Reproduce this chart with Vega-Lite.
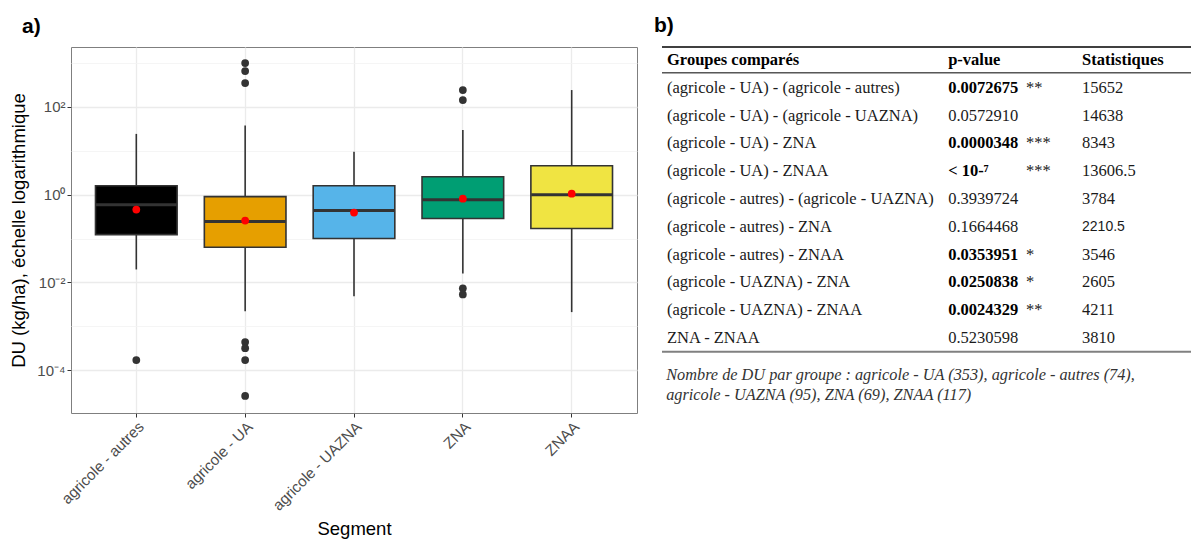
{
  "$schema": "https://vega.github.io/schema/vega-lite/v6.json",
  "background": "white",
  "padding": {"left": 9, "top": 15, "right": 0, "bottom": 0},
  "config": {"font": "Liberation Sans", "view": {"stroke": "#7f7f7f", "strokeWidth": 1}},
  "datasets": {
    "boites": [
      {"segment": "agricole - autres", "min": 0.0197, "q1": 0.123, "mediane": 0.59, "q3": 1.6, "max": 24.3, "moyenne": 0.457},
      {"segment": "agricole - UA", "min": 0.0022, "q1": 0.063, "mediane": 0.243, "q3": 0.9, "max": 38, "moyenne": 0.256},
      {"segment": "agricole - UAZNA", "min": 0.0048, "q1": 0.1, "mediane": 0.433, "q3": 1.6, "max": 9.5, "moyenne": 0.39},
      {"segment": "ZNA", "min": 0.016, "q1": 0.285, "mediane": 0.77, "q3": 2.56, "max": 30, "moyenne": 0.81},
      {"segment": "ZNAA", "min": 0.0021, "q1": 0.169, "mediane": 1.0, "q3": 4.56, "max": 243, "moyenne": 1.05}
    ],
    "atypiques": [
      {"segment": "agricole - autres", "valeur": 0.000169},
      {"segment": "agricole - UA", "valeur": 1000},
      {"segment": "agricole - UA", "valeur": 658},
      {"segment": "agricole - UA", "valeur": 351},
      {"segment": "agricole - UA", "valeur": 0.000435},
      {"segment": "agricole - UA", "valeur": 0.000316},
      {"segment": "agricole - UA", "valeur": 0.000169},
      {"segment": "agricole - UA", "valeur": 0.0000257},
      {"segment": "ZNA", "valeur": 243},
      {"segment": "ZNA", "valeur": 144},
      {"segment": "ZNA", "valeur": 0.0073},
      {"segment": "ZNA", "valeur": 0.0053}
    ],
    "tableau": [
      {"rang": 1, "groupes": "(agricole - UA) - (agricole - autres)", "pvalue": "0.0072675", "signif": "**", "statistique": "15652"},
      {"rang": 2, "groupes": "(agricole - UA) - (agricole - UAZNA)", "pvalue": "0.0572910", "signif": "", "statistique": "14638"},
      {"rang": 3, "groupes": "(agricole - UA) - ZNA", "pvalue": "0.0000348", "signif": "***", "statistique": "8343"},
      {"rang": 4, "groupes": "(agricole - UA) - ZNAA", "pvalue": "< 10-⁷", "signif": "***", "statistique": "13606.5"},
      {"rang": 5, "groupes": "(agricole - autres) - (agricole - UAZNA)", "pvalue": "0.3939724", "signif": "", "statistique": "3784"},
      {"rang": 6, "groupes": "(agricole - autres) - ZNA", "pvalue": "0.1664468", "signif": "", "statistique": "2210.5"},
      {"rang": 7, "groupes": "(agricole - autres) - ZNAA", "pvalue": "0.0353951", "signif": "*", "statistique": "3546"},
      {"rang": 8, "groupes": "(agricole - UAZNA) - ZNA", "pvalue": "0.0250838", "signif": "*", "statistique": "2605"},
      {"rang": 9, "groupes": "(agricole - UAZNA) - ZNAA", "pvalue": "0.0024329", "signif": "**", "statistique": "4211"},
      {"rang": 10, "groupes": "ZNA - ZNAA", "pvalue": "0.5230598", "signif": "", "statistique": "3810"}
    ]
  },
  "spacing": 16,
  "resolve": {"scale": {"x": "independent", "y": "independent"}},
  "hconcat": [
    {
      "width": 566,
      "height": 366,
      "title": {"text": "a)", "anchor": "start", "frame": "group", "dx": -49, "offset": 10, "fontSize": 21, "fontWeight": "bold", "font": "Liberation Sans", "color": "#000000"},
      "resolve": {"axis": {"y": "independent"}},
      "layer": [
        {
          "data": {"name": "boites"},
          "mark": {"type": "rule", "opacity": 0},
          "encoding": {
            "y": {
              "field": "mediane", "type": "quantitative",
              "scale": {"type": "log", "domain": [0.0000105, 2330], "nice": false},
              "axis": {"orient": "right", "values": [0.001, 0.1, 10, 1000], "grid": true, "gridColor": "#F3F3F3", "gridWidth": 0.8, "labels": false, "ticks": false, "domain": false, "title": null, "minExtent": 0, "maxExtent": 0}
            }
          }
        },
        {
          "layer": [
            {
              "data": {"name": "boites"},
              "mark": {"type": "rule", "color": "#333333", "strokeWidth": 1.6},
              "encoding": {
                "x": {
                  "field": "segment", "type": "nominal", "title": "Segment",
                  "scale": {"type": "band", "domain": ["agricole - autres", "agricole - UA", "agricole - UAZNA", "ZNA", "ZNAA"], "paddingInner": 0.25, "paddingOuter": 0.225},
                  "axis": {"title": "Segment", "labelAngle": -45, "labelFontSize": 15.2, "labelColor": "#4D4D4D", "tickColor": "#333333", "tickSize": 4, "grid": true, "gridColor": "#EBEBEB", "gridWidth": 1.3, "domain": false, "titleFontSize": 18.5, "titleFontWeight": "normal", "titleColor": "#000000", "titlePadding": 6, "labelPadding": 2}
                },
                "y": {
                  "field": "min", "type": "quantitative", "title": "DU (kg/ha), échelle logarithmique",
                  "scale": {"type": "log", "domain": [0.0000105, 2330], "nice": false},
                  "axis": {"title": "DU (kg/ha), échelle logarithmique", "values": [0.0001, 0.01, 1, 100], "labelExpr": "datum.value < 0.001 ? '10⁻⁴' : datum.value < 0.1 ? '10⁻²' : datum.value < 10 ? '10⁰' : '10²'", "grid": true, "gridColor": "#EBEBEB", "gridWidth": 1.3, "domain": false, "tickColor": "#333333", "tickSize": 4, "labelColor": "#4D4D4D", "labelFontSize": 15, "labelPadding": 2, "titleFontSize": 18.5, "titleFontWeight": "normal", "titleColor": "#000000", "titlePadding": 8}
                },
                "y2": {"field": "max"}
              }
            },
            {
              "data": {"name": "boites"},
              "mark": {"type": "bar", "stroke": "#333333", "strokeWidth": 1.6},
              "encoding": {
                "x": {"field": "segment", "type": "nominal", "title": "Segment"},
                "y": {"field": "q1", "type": "quantitative", "title": "DU (kg/ha), échelle logarithmique"},
                "y2": {"field": "q3"},
                "color": {
                  "field": "segment", "type": "nominal", "legend": null,
                  "scale": {"domain": ["agricole - autres", "agricole - UA", "agricole - UAZNA", "ZNA", "ZNAA"], "range": ["#000000", "#E69F00", "#56B4E9", "#009E73", "#F0E442"]}
                }
              }
            },
            {
              "data": {"name": "boites"},
              "mark": {"type": "tick", "color": "#333333", "size": 81, "thickness": 3, "opacity": 1},
              "encoding": {
                "x": {"field": "segment", "type": "nominal", "title": "Segment"},
                "y": {"field": "mediane", "type": "quantitative", "title": "DU (kg/ha), échelle logarithmique"}
              }
            },
            {
              "data": {"name": "boites"},
              "mark": {"type": "circle", "color": "#FF0000", "size": 60, "opacity": 1},
              "encoding": {
                "x": {"field": "segment", "type": "nominal", "title": "Segment"},
                "y": {"field": "moyenne", "type": "quantitative", "title": "DU (kg/ha), échelle logarithmique"}
              }
            },
            {
              "data": {"name": "atypiques"},
              "mark": {"type": "circle", "color": "#333333", "size": 60, "opacity": 1},
              "encoding": {
                "x": {"field": "segment", "type": "nominal", "title": "Segment"},
                "y": {"field": "valeur", "type": "quantitative", "title": "DU (kg/ha), échelle logarithmique"}
              }
            }
          ]
        }
      ]
    },
    {
      "width": 529,
      "height": 366,
      "view": {"stroke": null},
      "title": {"text": "b)", "anchor": "start", "frame": "group", "dx": -8, "offset": 10, "fontSize": 21, "fontWeight": "bold", "font": "Liberation Sans", "color": "#000000"},
      "layer": [
        {
          "data": {"values": [{"ligne": "haut", "pos": -0.47}]},
          "mark": {"type": "rule", "color": "#000000", "strokeWidth": 1.3},
          "encoding": {
            "y": {"field": "pos", "type": "quantitative", "scale": {"domain": [-0.47, 12.7], "reverse": true, "nice": false, "zero": false}, "axis": null}
          }
        },
        {
          "data": {"values": [{}]},
          "mark": {"type": "rule", "color": "#000000", "strokeWidth": 1},
          "encoding": {"y": {"datum": 0.46, "type": "quantitative"}}
        },
        {
          "data": {"values": [{}]},
          "mark": {"type": "rule", "color": "#808080", "strokeWidth": 2},
          "encoding": {"y": {"datum": 10.5, "type": "quantitative"}}
        },
        {
          "data": {"values": [{}]},
          "mark": {"type": "text", "text": "Groupes comparés", "align": "left", "baseline": "middle", "font": "Liberation Serif", "fontSize": 16.5, "fontWeight": "bold", "color": "#000000"},
          "encoding": {
            "x": {"datum": 0.95, "type": "quantitative", "scale": {"domain": [0, 100], "nice": false, "zero": false}, "axis": null},
            "y": {"datum": 0, "type": "quantitative"}
          }
        },
        {
          "data": {"values": [{}]},
          "mark": {"type": "text", "text": "p-value", "align": "left", "baseline": "middle", "font": "Liberation Serif", "fontSize": 16.5, "fontWeight": "bold", "color": "#000000"},
          "encoding": {"x": {"datum": 54.1, "type": "quantitative"}, "y": {"datum": 0, "type": "quantitative"}}
        },
        {
          "data": {"values": [{}]},
          "mark": {"type": "text", "text": "Statistiques", "align": "left", "baseline": "middle", "font": "Liberation Serif", "fontSize": 16.5, "fontWeight": "bold", "color": "#000000"},
          "encoding": {"x": {"datum": 79.4, "type": "quantitative"}, "y": {"datum": 0, "type": "quantitative"}}
        },
        {
          "data": {"name": "tableau"},
          "mark": {"type": "text", "align": "left", "baseline": "middle", "font": "Liberation Serif", "fontSize": 16.5, "color": "#1a1a1a"},
          "encoding": {
            "x": {"datum": 0.95, "type": "quantitative"},
            "y": {"field": "rang", "type": "quantitative"},
            "text": {"field": "groupes"}
          }
        },
        {
          "data": {"name": "tableau"},
          "transform": [{"filter": "datum.signif != ''"}],
          "mark": {"type": "text", "align": "left", "baseline": "middle", "font": "Liberation Serif", "fontSize": 16.5, "fontWeight": "bold", "color": "#000000"},
          "encoding": {
            "x": {"datum": 54.1, "type": "quantitative"},
            "y": {"field": "rang", "type": "quantitative"},
            "text": {"field": "pvalue"}
          }
        },
        {
          "data": {"name": "tableau"},
          "transform": [{"filter": "datum.signif == ''"}],
          "mark": {"type": "text", "align": "left", "baseline": "middle", "font": "Liberation Serif", "fontSize": 16.5, "color": "#1a1a1a"},
          "encoding": {
            "x": {"datum": 54.1, "type": "quantitative"},
            "y": {"field": "rang", "type": "quantitative"},
            "text": {"field": "pvalue"}
          }
        },
        {
          "data": {"name": "tableau"},
          "mark": {"type": "text", "align": "left", "baseline": "middle", "font": "Liberation Serif", "fontSize": 16.5, "color": "#1a1a1a"},
          "encoding": {
            "x": {"datum": 68.8, "type": "quantitative"},
            "y": {"field": "rang", "type": "quantitative"},
            "text": {"field": "signif"}
          }
        },
        {
          "data": {"name": "tableau"},
          "transform": [{"filter": "datum.statistique != '2210.5'"}],
          "mark": {"type": "text", "align": "left", "baseline": "middle", "font": "Liberation Serif", "fontSize": 16.5, "color": "#1a1a1a"},
          "encoding": {
            "x": {"datum": 79.4, "type": "quantitative"},
            "y": {"field": "rang", "type": "quantitative"},
            "text": {"field": "statistique"}
          }
        },
        {
          "data": {"name": "tableau"},
          "transform": [{"filter": "datum.statistique == '2210.5'"}],
          "mark": {"type": "text", "align": "left", "baseline": "middle", "font": "Liberation Sans", "fontSize": 14, "color": "#1a1a1a"},
          "encoding": {
            "x": {"datum": 79.4, "type": "quantitative"},
            "y": {"field": "rang", "type": "quantitative"},
            "text": {"field": "statistique"}
          }
        },
        {
          "data": {"values": [{}]},
          "mark": {"type": "text", "text": ["Nombre de DU par groupe : agricole - UA (353), agricole - autres (74),", "agricole - UAZNA (95), ZNA (69), ZNAA (117)"], "lineHeight": 20, "align": "left", "baseline": "top", "font": "Liberation Serif", "fontSize": 16.3, "fontStyle": "italic", "color": "#333333"},
          "encoding": {"x": {"datum": 0.8, "type": "quantitative"}, "y": {"datum": 11.03, "type": "quantitative"}}
        }
      ]
    }
  ]
}
